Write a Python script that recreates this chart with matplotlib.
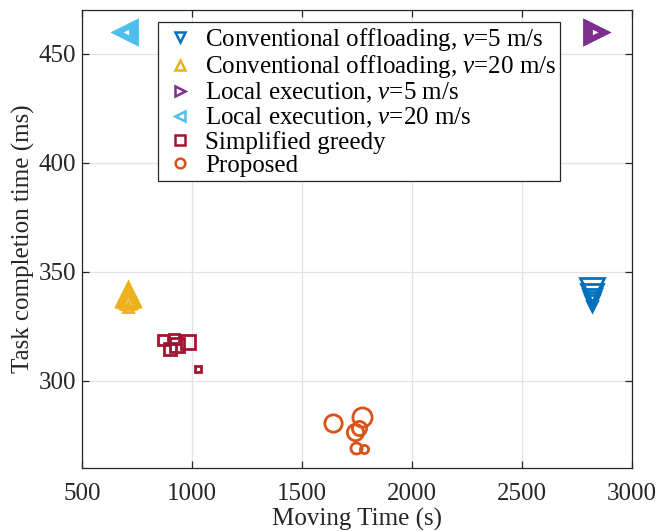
import matplotlib
matplotlib.use("Agg")
import matplotlib.pyplot as plt
from matplotlib.lines import Line2D

plt.rcParams["font.family"] = ["Liberation Serif", "DejaVu Serif"]
plt.rcParams["mathtext.fontset"] = "custom"
plt.rcParams["mathtext.rm"] = "Liberation Serif"
plt.rcParams["mathtext.it"] = "Liberation Serif:italic"

# Moving time (s) and task completion time (ms) for each scheme
conv_v5_x = [2820, 2820, 2820, 2820, 2820, 2820]
conv_v5_y = [341.5, 339.5, 338.0, 337.0, 336.0, 334.5]

conv_v20_x = [708, 708, 708, 708, 708, 708]
conv_v20_y = [340.0, 339.0, 338.0, 337.0, 336.0, 334.0]

local_v5_x = [2835, 2835, 2835, 2835, 2835, 2835]
local_v5_y = [460, 460, 460, 460, 460, 460]

local_v20_x = [695, 695, 695, 695, 695, 695]
local_v20_y = [460, 460, 460, 460, 460, 460]

greedy_x = [866, 900, 918, 930, 980, 1027]
greedy_y = [318.5, 314.5, 319.0, 316.5, 318.0, 305.5]

proposed_x = [1641, 1773, 1743, 1759, 1745, 1780]
proposed_y = [280.5, 283.5, 276.5, 278.3, 269.0, 268.5]

labels = [
    r"Conventional offloading, $v$=5 m/s",
    r"Conventional offloading, $v$=20 m/s",
    r"Local execution, $v$=5 m/s",
    r"Local execution, $v$=20 m/s",
    "Simplified greedy",
    "Proposed",
]

x_ticks = [500, 1000, 1500, 2000, 2500, 3000]
y_ticks = [300, 350, 400, 450]

# marker sizes (points) for the individual points of each scheme
tri_sizes = [17.5, 15.5, 13.5, 11.5, 9.5, 7.5]
greedy_sizes = [7.0, 8.5, 7.5, 9.5, 10.0, 4.5]
proposed_sizes = [12.5, 13.8, 11.7, 10.2, 8.0, 5.9]

C_BLUE = "#0072BD"
C_ORANGE = "#D95319"
C_YELLOW = "#EDB120"
C_PURPLE = "#7E2F8E"
C_CYAN = "#4DBEEE"
C_RED = "#A2142F"
AX_COL = "#262626"
FS = 18.0
MEW = 2.0

fig = plt.figure(figsize=(6.70, 5.31), dpi=100)
ax = fig.add_axes([0.1224, 0.1186, 0.8209, 0.8625])

series = [
    (conv_v5_x, conv_v5_y, "v", C_BLUE, tri_sizes),
    (conv_v20_x, conv_v20_y, "^", C_YELLOW, tri_sizes),
    (local_v5_x, local_v5_y, ">", C_PURPLE, tri_sizes),
    (local_v20_x, local_v20_y, "<", C_CYAN, tri_sizes),
    (greedy_x, greedy_y, "s", C_RED, greedy_sizes),
    (proposed_x, proposed_y, "o", C_ORANGE, proposed_sizes),
]

handles = []
for (xs, ys, mk, col, sizes), lab in zip(series, labels):
    for x, y, ms in zip(xs, ys, sizes):
        ax.plot([x], [y], linestyle="none", marker=mk, ms=ms,
                mfc="none", mec=col, mew=MEW, zorder=3)
    handles.append(Line2D([], [], linestyle="none", marker=mk, ms=7.0,
                          mfc="none", mec=col, mew=1.8, label=lab))

ax.set_xlim(500, 3000)
ax.set_ylim(260, 470)
ax.set_xticks(x_ticks)
ax.set_yticks(y_ticks)
ax.grid(True, color="#E3E3E3", linewidth=0.9, zorder=0)
ax.set_axisbelow(True)
ax.tick_params(direction="in", length=5, width=0.9, colors=AX_COL,
               labelsize=FS, top=True, right=True)
ax.tick_params(axis="x", pad=11)
ax.tick_params(axis="y", pad=4)
for sp in ax.spines.values():
    sp.set_color(AX_COL)
    sp.set_linewidth(0.9)

ax.set_xlabel("Moving Time (s)", fontsize=FS, color=AX_COL, labelpad=2)
ax.set_ylabel("Task completion time (ms)", fontsize=FS, color=AX_COL, labelpad=3)

leg = ax.legend(handles=handles, loc="upper left", bbox_to_anchor=(0.138, 0.974),
                borderaxespad=0, fontsize=FS, frameon=True, fancybox=False,
                framealpha=1, edgecolor=AX_COL, handlelength=1.45,
                handletextpad=0.3, labelspacing=0.03, borderpad=0.15)
leg.get_frame().set_linewidth(0.9)
for t in leg.get_texts():
    t.set_color("black")

fig.savefig("out.png", dpi=100)
